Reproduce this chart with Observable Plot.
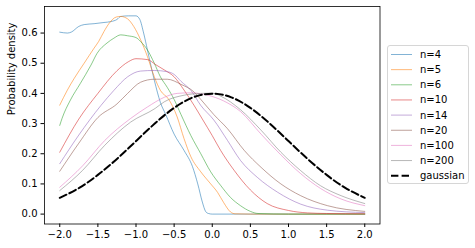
<!DOCTYPE html>
<html><head><meta charset="utf-8">
<script src="https://cdn.jsdelivr.net/npm/d3@7"></script>
<script src="https://cdn.jsdelivr.net/npm/@observablehq/plot@0.6"></script>
<style>
body{margin:0;background:#fff;}
#wrap{position:relative;width:475px;height:248px;font-family:"DejaVu Sans",sans-serif;}
#legend{position:absolute;left:0;top:0;}
</style></head><body><div id="wrap"></div>
<script>
const seriesNames = ["n=4","n=5","n=6","n=10","n=14","n=20","n=100","n=200"];
const seriesColors = ["#1f77b4","#ff7f0e","#2ca02c","#d62728","#9467bd","#8c564b","#e377c2","#7f7f7f"];

const x4 = [-2.0,-1.9,-1.85,-1.75,-1.68,-1.55,-1.42,-1.33,-1.25,-1.2,-1.1,-1.0,-0.95,-0.9,-0.85,-0.76,-0.68,-0.61,-0.5,-0.37,-0.26,-0.19,-0.13,-0.085,-0.05,0.0,0.5,1.0,1.5,2.0];
const y4 = [0.603,0.600,0.603,0.622,0.628,0.631,0.635,0.638,0.645,0.655,0.657,0.657,0.645,0.600,0.544,0.444,0.370,0.330,0.265,0.211,0.158,0.100,0.040,0.008,0.002,0.0,0.0,0.0,0.0,0.0];

const x5 = [-2.0,-1.9,-1.81,-1.68,-1.55,-1.49,-1.42,-1.35,-1.26,-1.2,-1.11,-1.03,-0.94,-0.85,-0.76,-0.68,-0.57,-0.46,-0.37,-0.28,-0.15,-0.02,0.07,0.15,0.24,0.3,0.5,1.0,1.5,2.0];
const y5 = [0.361,0.411,0.450,0.500,0.550,0.572,0.605,0.633,0.653,0.655,0.647,0.622,0.578,0.522,0.455,0.410,0.380,0.322,0.250,0.190,0.140,0.100,0.072,0.038,0.007,0.001,0.0,0.0,0.0,0.0];

const x6 = [-2.0,-1.97,-1.86,-1.73,-1.59,-1.51,-1.38,-1.29,-1.2,-1.11,-1.0,-0.94,-0.85,-0.76,-0.68,-0.59,-0.5,-0.41,-0.28,-0.15,-0.02,0.11,0.24,0.37,0.5,0.6,1.0,1.5,2.0];
const y6 = [0.294,0.317,0.378,0.433,0.494,0.533,0.567,0.583,0.594,0.591,0.585,0.572,0.544,0.500,0.455,0.420,0.380,0.330,0.260,0.200,0.140,0.095,0.055,0.028,0.009,0.002,0.0,0.0,0.0];

const x10 = [-2.0,-1.75,-1.5,-1.25,-1.1,-1.0,-0.85,-0.74,-0.63,-0.5,-0.37,-0.24,-0.13,0.0,0.11,0.29,0.5,0.72,1.0,1.25,1.5,2.0];
const y10 = [0.205,0.315,0.400,0.475,0.505,0.515,0.512,0.495,0.478,0.455,0.411,0.361,0.315,0.260,0.211,0.144,0.080,0.035,0.012,0.004,0.002,0.001];

const x14 = [-2.0,-1.75,-1.46,-1.29,-1.11,-0.94,-0.76,-0.59,-0.5,-0.41,-0.28,-0.15,0.02,0.2,0.37,0.59,0.86,1.16,1.51,2.0];
const y14 = [0.167,0.262,0.360,0.410,0.455,0.474,0.476,0.472,0.463,0.440,0.410,0.360,0.312,0.244,0.178,0.122,0.072,0.033,0.013,0.005];

const x20 = [-2.0,-1.75,-1.5,-1.25,-1.11,-0.94,-0.76,-0.59,-0.41,-0.24,-0.15,0.02,0.2,0.42,0.64,0.9,1.16,1.51,2.0];
const y20 = [0.142,0.235,0.320,0.365,0.400,0.437,0.447,0.447,0.430,0.405,0.380,0.330,0.283,0.211,0.155,0.100,0.061,0.028,0.009];

const x100 = [-2.0,-1.7,-1.41,-1.07,-0.85,-0.63,-0.46,-0.28,-0.06,0.15,0.37,0.64,0.9,1.16,1.42,1.69,2.0];
const y100 = [0.089,0.160,0.244,0.317,0.355,0.387,0.400,0.402,0.394,0.375,0.340,0.265,0.196,0.134,0.085,0.050,0.028];

const x200 = [-2.0,-1.7,-1.41,-1.07,-0.75,-0.63,-0.37,-0.15,0.0,0.11,0.37,0.64,0.9,1.16,1.42,1.69,2.0];
const y200 = [0.078,0.145,0.228,0.305,0.350,0.372,0.394,0.400,0.401,0.391,0.346,0.278,0.205,0.144,0.094,0.061,0.035];

const xGauss = [-2.0,-1.75,-1.5,-1.25,-1.0,-0.75,-0.5,-0.25,0.0,0.25,0.5,0.75,1.0,1.25,1.5,1.75,2.0];
const yGauss = [0.054,0.086,0.130,0.183,0.242,0.301,0.352,0.387,0.399,0.387,0.352,0.301,0.242,0.183,0.130,0.086,0.054];

const xTicks = [-2.0,-1.5,-1.0,-0.5,0.0,0.5,1.0,1.5,2.0];
const yTicks = [0.0,0.1,0.2,0.3,0.4,0.5,0.6];

const allX = [x4,x5,x6,x10,x14,x20,x100,x200];
const allY = [y4,y5,y6,y10,y14,y20,y100,y200];
const rows = [];
seriesNames.forEach((name,i)=>{
  allX[i].forEach((x,j)=>rows.push({series:name,x,y:allY[i][j]}));
});
const gauss = xGauss.map((x,j)=>({x,y:yGauss[j]}));

const W = 475, H = 248;
const chart = Plot.plot({
  width: W, height: H,
  marginLeft: 44, marginRight: 95.5, marginTop: 6, marginBottom: 24.5,
  style: {fontFamily: "'DejaVu Sans', sans-serif", fontSize: "10px", background: "#fff", color: "#000"},
  x: {domain: [-2.2, 2.2], ticks: xTicks, tickFormat: d3.format(".1f"), tickSize: 3.5, tickPadding: 3.5, label: null},
  y: {domain: [-0.0328, 0.688], ticks: yTicks, tickFormat: d3.format(".1f"), tickSize: 3.5, tickPadding: 3.5, label: null},
  color: {domain: seriesNames, range: seriesColors},
  marks: [
    Plot.line(rows, {x: "x", y: "y", z: "series", stroke: "series", strokeWidth: 0.7, strokeOpacity: 0.8, curve: "monotone-x"}),
    Plot.line(gauss, {x: "x", y: "y", stroke: "#000", strokeWidth: 2, strokeDasharray: "7.4,3.2", curve: "natural"}),
    Plot.frame({stroke: "#000", strokeWidth: 0.8}),
    Plot.axisX({ticks: xTicks, tickFormat: d3.format(".1f"), tickSize: 3.5, tickPadding: 3.5, label: null, stroke: "#000"}),
    Plot.axisY({ticks: yTicks, tickFormat: d3.format(".1f"), tickSize: 3.5, tickPadding: 3.5, label: null, stroke: "#000"}),
    Plot.text(["Probability density"], {frameAnchor: "left", dx: -33, rotate: -90, fontSize: 10, fill: "#000"})
  ]
});
const wrap = document.getElementById("wrap");
wrap.appendChild(chart);

// legend
const leg = d3.select(wrap).append("svg").attr("id","legend").attr("width",W).attr("height",H)
  .style("pointer-events","none");
const lx = 387.5, ly = 45.5, lw = 81, lh = 138;
leg.append("rect").attr("x",lx).attr("y",ly).attr("width",lw).attr("height",lh).attr("rx",2.5)
  .attr("fill","#fff").attr("fill-opacity",0.8).attr("stroke","#d6d6d6").attr("stroke-width",1);
const legNames = seriesNames.concat(["gaussian"]);
legNames.forEach((name,i)=>{
  const y = 54.5 + i*15.15;
  const isG = i === seriesNames.length;
  leg.append("line").attr("x1",391).attr("x2",412).attr("y1",y).attr("y2",y)
    .attr("stroke", isG ? "#000" : seriesColors[i])
    .attr("stroke-width", isG ? 2 : 0.7)
    .attr("stroke-opacity", isG ? 1 : 0.8)
    .attr("stroke-dasharray", isG ? "7.4,3.2" : null);
  leg.append("text").attr("x",420).attr("y",y).attr("dy","0.35em")
    .attr("font-family","'DejaVu Sans', sans-serif").attr("font-size",10).attr("fill","#000").text(name);
});
</script></body></html>
